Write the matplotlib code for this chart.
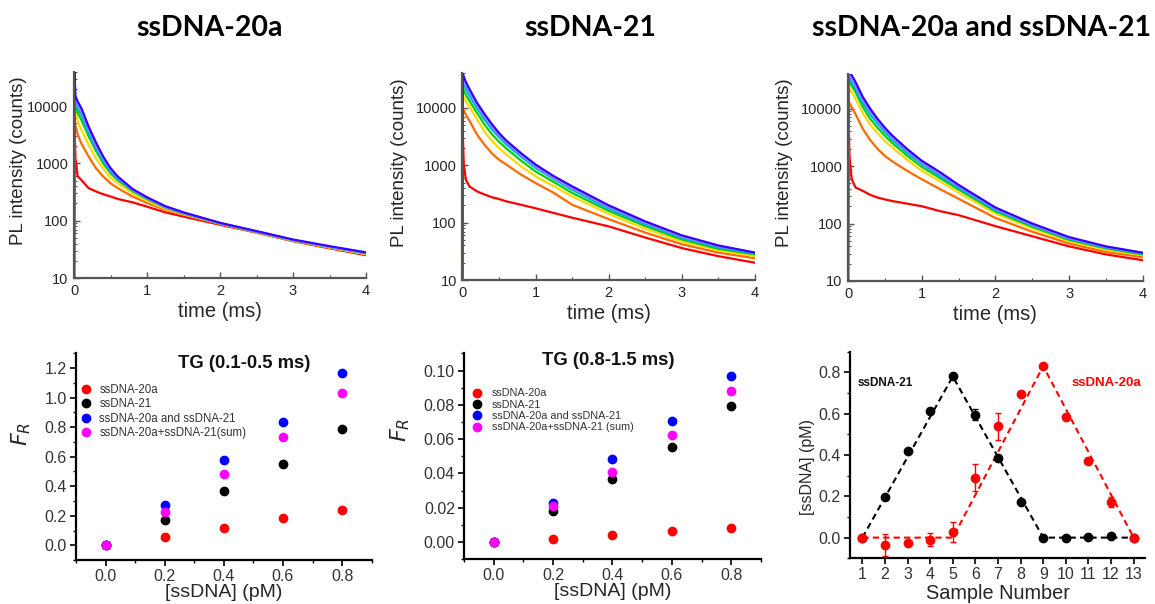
import matplotlib
matplotlib.use('Agg')
import matplotlib.pyplot as plt
from matplotlib.ticker import FixedLocator, MultipleLocator, NullFormatter, FixedFormatter

plt.rcParams['font.family'] = ['Liberation Sans', 'DejaVu Sans']

# ---------------- data ----------------
time_ms = [0, 0.005, 0.02, 0.05, 0.1, 0.2, 0.3, 0.4, 0.5, 0.6, 0.8, 1.0, 1.25, 1.5, 2.0, 2.5, 3.0, 3.5, 4.0]
curve_colors = ['#ff0000', '#ff6a00', '#ffd800', '#00d400', '#00a8ff', '#8c8cff', '#3a00ff']

# PL decay curves (red -> violet)
pl_20a = [
    [10, 5000, 1200, 600, 515, 370, 325, 290, 265, 240, 210, 176, 140, 118, 85, 62, 44, 33, 25],
    [10, 6000, 4500, 3200, 2230, 1320, 825, 590, 450, 370, 265, 205, 155, 127, 88, 63, 45, 34, 26],
    [10, 9000, 7500, 5500, 3880, 2130, 1230, 810, 565, 450, 300, 222, 162, 130, 89, 63, 45, 34, 26],
    [10, 12000, 10000, 7800, 5760, 2970, 1660, 1000, 675, 510, 330, 240, 170, 134, 90, 64, 46, 35, 27],
    [10, 14000, 12000, 9300, 7100, 3400, 1840, 1120, 725, 535, 340, 245, 172, 135, 90, 64, 46, 35, 27],
    [10, 16000, 13500, 10500, 8100, 3900, 2050, 1200, 780, 565, 350, 250, 175, 137, 91, 65, 46, 35, 28],
    [10, 40000, 15000, 12000, 9300, 4400, 2330, 1320, 830, 590, 360, 257, 180, 140, 92, 66, 47, 36, 28],
]
pl_21 = [
    [10, 4000, 1000, 550, 425, 350, 310, 278, 258, 235, 205, 178, 147, 122, 86, 55, 36, 26, 20],
    [10, 10000, 9000, 7500, 5900, 3420, 2300, 1630, 1250, 1030, 690, 490, 330, 205, 115, 67, 42, 30, 24],
    [10, 17000, 15000, 12800, 10300, 6300, 3900, 2700, 2000, 1550, 960, 640, 430, 286, 142, 78, 47, 33, 26],
    [10, 23000, 20000, 16500, 13100, 8200, 5160, 3530, 2580, 1960, 1210, 780, 510, 330, 160, 87, 51, 35, 28],
    [10, 30000, 26000, 21000, 15900, 10000, 6300, 4290, 3100, 2300, 1420, 900, 575, 375, 175, 94, 54, 37, 29],
    [10, 36000, 31000, 24500, 18200, 11200, 7200, 4800, 3400, 2520, 1540, 960, 600, 400, 188, 100, 57, 39, 30],
    [10, 40000, 35000, 28000, 21000, 12300, 7900, 5270, 3660, 2700, 1630, 1030, 645, 430, 200, 105, 60, 40, 30],
]
pl_mix = [
    [10, 10000, 1500, 600, 425, 370, 316, 283, 263, 246, 222, 200, 164, 140, 90, 60, 40, 29, 23],
    [10, 14000, 12500, 10500, 8100, 4470, 2850, 2000, 1500, 1210, 830, 590, 395, 270, 125, 72, 45, 32, 26],
    [10, 25000, 23000, 19500, 15000, 8400, 5260, 3750, 2730, 2100, 1290, 830, 540, 345, 150, 82, 49, 35, 28],
    [10, 33000, 30000, 25000, 19500, 10700, 6640, 4650, 3380, 2520, 1520, 970, 615, 390, 163, 88, 52, 37, 29],
    [10, 40000, 35000, 29000, 22200, 12600, 7950, 5470, 3920, 2860, 1710, 1090, 670, 420, 172, 92, 54, 38, 30],
    [10, 45000, 40000, 33000, 25500, 14400, 9100, 6050, 4300, 3150, 1860, 1160, 720, 445, 182, 96, 56, 39, 31],
    [10, 50000, 45000, 38000, 29400, 16000, 10000, 6640, 4650, 3400, 1990, 1240, 780, 470, 190, 100, 58, 40, 31],
]

conc_pM = [0.0, 0.2, 0.4, 0.6, 0.8]
fr_early_20a = [0.0, 0.056, 0.117, 0.182, 0.241]
fr_early_21 = [0.0, 0.171, 0.369, 0.549, 0.790]
fr_early_mix = [0.0, 0.270, 0.576, 0.837, 1.164]
fr_early_sum = [0.0, 0.225, 0.484, 0.732, 1.029]
fr_late_20a = [0.0, 0.0019, 0.0041, 0.0066, 0.0083]
fr_late_21 = [0.0, 0.0183, 0.0365, 0.0556, 0.0795]
fr_late_mix = [0.0, 0.0230, 0.0483, 0.0705, 0.0967]
fr_late_sum = [0.0, 0.0208, 0.0409, 0.0624, 0.0880]
legend_labels_early = ['ssDNA-20a', 'ssDNA-21', 'ssDNA-20a and ssDNA-21', 'ssDNA-20a+ssDNA-21(sum)']
legend_labels_late = ['ssDNA-20a', 'ssDNA-21', 'ssDNA-20a and ssDNA-21', 'ssDNA-20a+ssDNA-21 (sum)']

sample_no = [1, 2, 3, 4, 5, 6, 7, 8, 9, 10, 11, 12, 13]
found_21 = [0.0, 0.199, 0.421, 0.615, 0.781, 0.596, 0.384, 0.173, -0.003, 0.0, 0.003, 0.006, 0.0]
found_21_err = [0.005, 0.008, 0.01, 0.01, 0.008, 0.025, 0.01, 0.01, 0.005, 0.005, 0.005, 0.005, 0.0]
found_20a = [0.0, -0.036, -0.028, -0.010, 0.028, 0.291, 0.538, 0.696, 0.831, 0.586, 0.372, 0.172, 0.0]
found_20a_err = [0.005, 0.053, 0.01, 0.031, 0.048, 0.065, 0.066, 0.01, 0.01, 0.01, 0.01, 0.025, 0.005]
guide_x = [1, 5, 9, 13]
guide_21 = [0.0, 0.78, 0.0, 0.0]
guide_20a = [0.0, 0.0, 0.83, 0.0]

panel_titles = ['ssDNA-20a', 'ssDNA-21', 'ssDNA-20a and ssDNA-21']

# ---------------- figure ----------------
fig = plt.figure(figsize=(11.55, 6.04), dpi=100)
TXT = '#262626'

top_rects = [(0.0641, 0.5397, 0.2528, 0.3416),
             (0.4003, 0.5364, 0.2534, 0.3422),
             (0.7342, 0.5348, 0.2552, 0.3427)]
title_x = [210 / 1155, 590 / 1155, 982 / 1155]
ylabel_x = [-0.161, -0.185, -0.186]

for rect, data, ttl, tx, lx in zip(top_rects, [pl_20a, pl_21, pl_mix], panel_titles, title_x, ylabel_x):
    ax = fig.add_axes(rect)
    for vals, col in zip(data, curve_colors):
        ax.plot(time_ms, vals, color=col, lw=1.6, solid_joinstyle='round')
    ax.set_yscale('log')
    ax.set_xlim(0, 4)
    ax.set_ylim(10, 40000)
    ax.spines['top'].set_visible(False)
    ax.spines['right'].set_visible(False)
    for s in ('left', 'bottom'):
        ax.spines[s].set_color('#555555')
        ax.spines[s].set_linewidth(1.6)
    ax.xaxis.set_major_locator(MultipleLocator(1))
    ax.xaxis.set_minor_locator(MultipleLocator(0.5))
    ax.yaxis.set_major_locator(FixedLocator([10, 100, 1000, 10000]))
    ax.yaxis.set_major_formatter(FixedFormatter(['10', '100', '1000', '10000']))
    minor = [m * 10 ** e for e in range(1, 5) for m in range(2, 10) if m * 10 ** e <= 40000]
    ax.yaxis.set_minor_locator(FixedLocator(minor))
    ax.yaxis.set_minor_formatter(NullFormatter())
    ax.tick_params(which='both', direction='in', colors='#555555', labelcolor=TXT, labelsize=10.5)
    ax.tick_params(which='major', length=4, width=1, pad=4)
    ax.tick_params(which='minor', length=2.5, width=0.8)
    ax.set_xlabel('time (ms)', fontsize=14.5, color=TXT, labelpad=3)
    ax.set_ylabel('PL intensity (counts)', fontsize=13.5, color=TXT)
    ax.yaxis.set_label_coords(lx, 0.57)
    fig.text(tx, 1 - 28 / 604, ttl, ha='center', va='center', fontsize=20.5,
             fontweight='bold', family=['Lato', 'DejaVu Sans'], color='black')

marker_cols = ['#ff0000', '#000000', '#0000ff', '#ff00ff']


def style_bottom(ax):
    ax.spines['top'].set_visible(False)
    ax.spines['right'].set_visible(False)
    for s in ('left', 'bottom'):
        ax.spines[s].set_color('black')
        ax.spines[s].set_linewidth(1.6)
    ax.tick_params(which='both', direction='out', colors='black', labelcolor='#333333', labelsize=11.5)
    ax.tick_params(which='major', length=4, width=1.2, pad=2.5)
    ax.tick_params(which='minor', length=2.5, width=1.0)


# bottom-left
ax = fig.add_axes((0.0658, 0.0728, 0.2560, 0.3422))
for vals, col, lab in zip([fr_early_20a, fr_early_21, fr_early_mix, fr_early_sum], marker_cols, legend_labels_early):
    ax.plot(conc_pM, vals, ls='none', marker='o', ms=6, mfc=col, mec=col, label=lab)
ax.set_xlim(-0.1, 0.9)
ax.set_ylim(-0.1, 1.3)
ax.xaxis.set_major_locator(FixedLocator([0.0, 0.2, 0.4, 0.6, 0.8]))
ax.xaxis.set_minor_locator(MultipleLocator(0.1))
ax.yaxis.set_major_locator(FixedLocator([0.0, 0.2, 0.4, 0.6, 0.8, 1.0, 1.2]))
ax.yaxis.set_minor_locator(MultipleLocator(0.1))
ax.xaxis.set_major_formatter(FixedFormatter(['0.0', '0.2', '0.4', '0.6', '0.8']))
ax.yaxis.set_major_formatter(FixedFormatter(['0.0', '0.2', '0.4', '0.6', '0.8', '1.0', '1.2']))
style_bottom(ax)
ax.set_xlabel('[ssDNA] (pM)', fontsize=14, color=TXT, labelpad=0)
ax.set_ylabel(r'$F_R$', fontsize=16, color=TXT)
ax.yaxis.set_label_coords(-0.145, 0.61)
ax.text(0.568, 0.953, 'TG (0.1-0.5 ms)', transform=ax.transAxes, ha='center', va='center',
        fontsize=13.3, fontweight='bold', color='#111111')
ax.legend(loc='upper left', bbox_to_anchor=(0.005, 0.865), frameon=False, fontsize=8.3,
          handlelength=1.0, handletextpad=0.7, labelspacing=0.22, borderaxespad=0, borderpad=0.2,
          labelcolor='#333333')

# bottom-middle
ax = fig.add_axes((0.4017, 0.0740, 0.2571, 0.3410))
for vals, col, lab in zip([fr_late_20a, fr_late_21, fr_late_mix, fr_late_sum], marker_cols, legend_labels_late):
    ax.plot(conc_pM, vals, ls='none', marker='o', ms=6, mfc=col, mec=col, label=lab)
ax.set_xlim(-0.1, 0.9)
ax.set_ylim(-0.01, 0.11)
ax.xaxis.set_major_locator(FixedLocator([0.0, 0.2, 0.4, 0.6, 0.8]))
ax.xaxis.set_minor_locator(MultipleLocator(0.1))
ax.yaxis.set_major_locator(FixedLocator([0.0, 0.02, 0.04, 0.06, 0.08, 0.10]))
ax.yaxis.set_minor_locator(MultipleLocator(0.01))
ax.xaxis.set_major_formatter(FixedFormatter(['0.0', '0.2', '0.4', '0.6', '0.8']))
ax.yaxis.set_major_formatter(FixedFormatter(['0.00', '0.02', '0.04', '0.06', '0.08', '0.10']))
style_bottom(ax)
ax.set_xlabel('[ssDNA] (pM)', fontsize=14, color=TXT, labelpad=0)
ax.set_ylabel(r'$F_R$', fontsize=16, color=TXT)
ax.yaxis.set_label_coords(-0.175, 0.63)
ax.text(0.485, 0.967, 'TG (0.8-1.5 ms)', transform=ax.transAxes, ha='center', va='center',
        fontsize=13.3, fontweight='bold', color='#111111')
ax.legend(loc='upper left', bbox_to_anchor=(0.02, 0.84), frameon=False, fontsize=7.8,
          handlelength=1.0, handletextpad=0.8, labelspacing=0.12, borderaxespad=0, borderpad=0.2,
          labelcolor='#333333')

# bottom-right
ax = fig.add_axes((0.7359, 0.0757, 0.2554, 0.3420))
dash = (0, (3, 2))
ax.plot(guide_x, guide_21, color='black', lw=1.5, ls=dash, zorder=1)
ax.plot(guide_x, guide_20a, color='#ff0000', lw=1.5, ls=dash, zorder=1)
ax.errorbar(sample_no, found_21, yerr=found_21_err, fmt='o', ms=6, color='black',
            ecolor='black', elinewidth=1, capsize=2.5, zorder=3)
ax.errorbar(sample_no, found_20a, yerr=found_20a_err, fmt='o', ms=6, color='#ff0000',
            ecolor='#ff0000', elinewidth=1, capsize=2.5, zorder=4)
ax.set_xlim(0.45, 13.5)
ax.set_ylim(-0.1, 0.9)
ax.xaxis.set_major_locator(FixedLocator(sample_no))
ax.yaxis.set_major_locator(FixedLocator([0.0, 0.2, 0.4, 0.6, 0.8]))
ax.yaxis.set_minor_locator(MultipleLocator(0.1))
ax.yaxis.set_major_formatter(FixedFormatter(['0.0', '0.2', '0.4', '0.6', '0.8']))
style_bottom(ax)
ax.set_xlabel('Sample Number', fontsize=14.3, color=TXT, labelpad=1)
ax.set_ylabel('[ssDNA] (pM)', fontsize=11.5, color=TXT)
ax.yaxis.set_label_coords(-0.12, 0.44)
ax.text(0.81, 0.75, 'ssDNA-21', ha='left', va='center', fontsize=8.5, fontweight='bold', color='#111111')
ax.text(10.25, 0.75, 'ssDNA-20a', ha='left', va='center', fontsize=9.5, fontweight='bold', color='#ff0000')

fig.savefig('out.png', dpi=100)
